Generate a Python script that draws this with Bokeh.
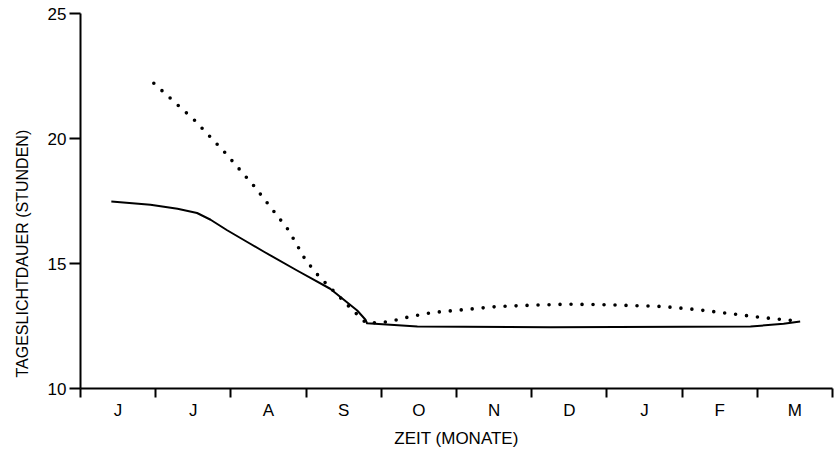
from bokeh.plotting import figure
from bokeh.models import Range1d, FixedTicker, Title
from bokeh.embed import file_html
from bokeh.resources import INLINE

# Month labels (centred in each month interval), boundaries at integers
months = ["J", "J", "A", "S", "O", "N", "D", "J", "F", "M"]
month_bounds = [0, 1, 2, 3, 4, 5, 6, 7, 8, 9, 10]
y_ticks = [10, 15, 20, 25]

# Solid curve: time (months since start of June) vs. daylight hours
solid_x = [0.41, 0.93, 1.29, 1.55, 1.73, 1.95, 2.24, 2.44, 2.88, 3.32, 3.68, 3.79,
           3.81, 4.12, 4.48, 6.25, 8.91, 9.35, 9.57]
solid_y = [17.48, 17.35, 17.19, 17.02, 16.75, 16.33, 15.82, 15.47, 14.72, 13.99, 13.12, 12.75,
           12.61, 12.55, 12.48, 12.45, 12.48, 12.59, 12.68]

# Dotted curve
dot_x = [0.975, 1.52, 1.92, 2.31, 2.77, 2.99, 3.18, 3.39, 3.60, 3.80,
         4.10, 4.39, 4.68, 5.12, 5.55, 6.00, 6.44, 6.87, 7.30, 7.74, 8.18, 8.60, 9.03, 9.46]
dot_y = [22.21, 20.72, 19.44, 18.09, 16.32, 15.15, 14.45, 13.83, 13.19, 12.61,
         12.67, 12.88, 13.04, 13.16, 13.28, 13.33, 13.37, 13.36, 13.32, 13.28, 13.16, 13.01, 12.85, 12.72]

FONT = "Liberation Sans"

p = figure(width=835, height=455, output_backend="svg", toolbar_location=None,
           x_range=Range1d(0, 10), y_range=Range1d(10, 25),
           min_border_left=80, min_border_right=3, min_border_top=13, min_border_bottom=67)
p.outline_line_color = None
p.grid.visible = False
p.background_fill_color = "white"

p.line(solid_x, solid_y, line_color="black", line_width=2, line_join="round")
p.line(dot_x, dot_y, line_color="black", line_width=3.6, line_dash="0 11", line_cap="round")

xa = p.xaxis[0]
centres = [b + 0.5 for b in month_bounds[:-1]]
xa.ticker = FixedTicker(ticks=centres, minor_ticks=month_bounds)
xa.major_label_overrides = {c: m for c, m in zip(centres, months)}
xa.major_tick_line_color = None
xa.major_tick_out = 0
xa.major_tick_in = 0
xa.minor_tick_line_color = "black"
xa.minor_tick_line_width = 2
xa.minor_tick_out = 9
xa.minor_tick_in = 0
xa.axis_line_width = 2
xa.axis_line_color = "black"
xa.major_label_text_font = FONT
xa.major_label_text_font_size = "17px"
xa.major_label_text_color = "black"
xa.major_label_standoff = 3
xa.axis_label = "ZEIT (MONATE)"
xa.axis_label_text_font = FONT
xa.axis_label_text_font_size = "17px"
xa.axis_label_text_font_style = "normal"
xa.axis_label_text_color = "black"
xa.axis_label_standoff = 6

ya = p.yaxis[0]
ya.ticker = FixedTicker(ticks=y_ticks, minor_ticks=[])
ya.major_tick_line_color = "black"
ya.major_tick_line_width = 2
ya.major_tick_out = 11
ya.major_tick_in = 0
ya.minor_tick_line_color = None
ya.axis_line_width = 2
ya.axis_line_color = "black"
ya.major_label_text_font = FONT
ya.major_label_text_font_size = "17px"
ya.major_label_text_color = "black"
ya.major_label_standoff = 3

ytitle = Title(text="TAGESLICHTDAUER (STUNDEN)", align="left", offset=11,
               vertical_align="top",
               text_font=FONT, text_font_size="16px", text_font_style="normal",
               text_color="black", standoff=24)
p.add_layout(ytitle, "left")

open("out.html", "w").write(file_html(p, INLINE))
